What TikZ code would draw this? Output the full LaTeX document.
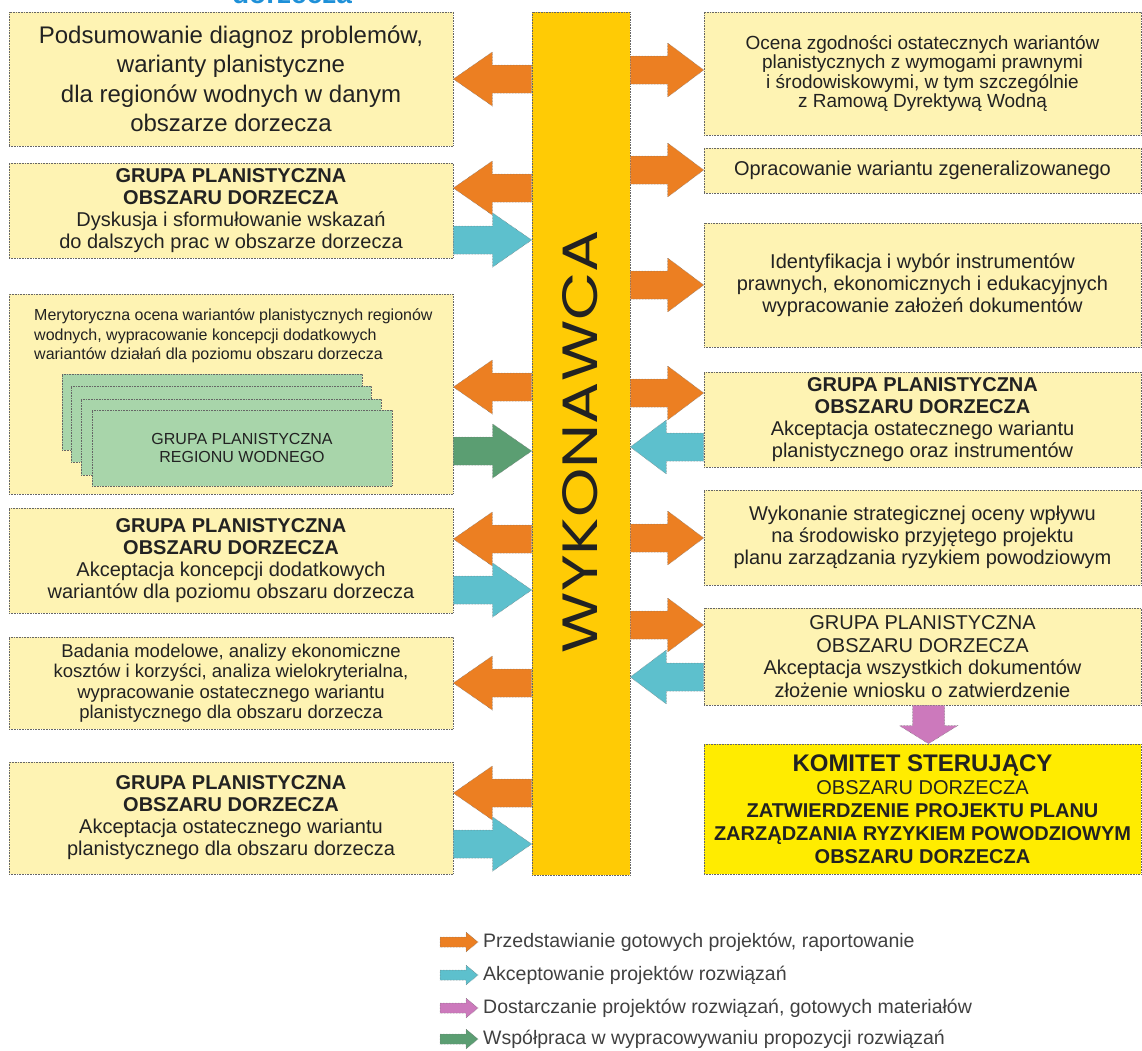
\documentclass[tikz,border=0pt]{standalone}
\usepackage{graphicx}
\usepackage{fontspec}
\setmainfont{Liberation Sans}
\newfontfamily\wykfont{Poppins}
\usetikzlibrary{calc}

\definecolor{boxfill}{HTML}{FEF3B3}
\definecolor{barfill}{HTML}{FFCB05}
\definecolor{komfill}{HTML}{FFEC00}
\definecolor{cardfill}{HTML}{A8D5AA}
\definecolor{arrorange}{HTML}{EC7F22}
\definecolor{arrcyan}{HTML}{5DC0CD}
\definecolor{arrgreen}{HTML}{5B9E72}
\definecolor{arrpink}{HTML}{CC79BC}
\definecolor{titleblue}{HTML}{1E90D8}
\definecolor{txt}{HTML}{222222}

% horizontal block arrow: colour, tail, tip, shaft half-height, head half-height, head length
\newcommand{\blockarrow}[6]{%
  \draw[arr, fill=#1] let \p1=(#2), \p2=(#3), \n1={ifthenelse(\x2>\x1,1,-1)} in
    ({\x1},{\y2+#4}) -- ({\x2-\n1*#6},{\y2+#4}) -- ({\x2-\n1*#6},{\y2+#5}) -- ({\x2},{\y2})
    -- ({\x2-\n1*#6},{\y2-#5}) -- ({\x2-\n1*#6},{\y2-#4}) -- ({\x1},{\y2-#4}) -- cycle;}
% vertical block arrow, same arguments
\newcommand{\vblockarrow}[6]{%
  \draw[arr, fill=#1] let \p1=(#2), \p2=(#3), \n1={ifthenelse(\y2>\y1,1,-1)} in
    ({\x2+#4},{\y1}) -- ({\x2+#4},{\y2-\n1*#6}) -- ({\x2+#5},{\y2-\n1*#6}) -- ({\x2},{\y2})
    -- ({\x2-#5},{\y2-\n1*#6}) -- ({\x2-#4},{\y2-\n1*#6}) -- ({\x2-#4},{\y1}) -- cycle;}

\tikzset{
  x=1pt, y=-1pt,
  outline/.style={draw=black!60, densely dotted, line width=0.6pt},
  box/.style={outline, fill=boxfill, inner sep=0pt, align=center, text=txt,
    font=\fontsize{20}{22}\selectfont},
  leftbox/.style={box, minimum width=444pt},
  rightbox/.style={box, minimum width=437pt},
  card/.style={outline, fill=cardfill, inner sep=0pt, align=center, text=txt,
    minimum width=300pt, minimum height=76pt, font=\fontsize{16}{18}\selectfont},
  arr/.style={draw=black!55, densely dotted, line width=0.5pt},
  legendtext/.style={anchor=west, inner sep=0pt, text=black!75,
    font=\fontsize{19.5}{22}\selectfont},
}

\begin{document}
\begin{tikzpicture}
\useasboundingbox (0,0) rectangle (1142,1050);

% heights at which the block arrows run
\foreach \v in {70,79,170,188,240,285,387,393,447,451,539,538,590,625,677,683,793,844}
  \coordinate (h\v) at (0,\v);

% heading running off the top edge
\node[anchor=base, inner sep=0pt, text=titleblue,
  font=\bfseries\fontsize{28}{30}\selectfont] (title) at (292,3.5) {dorzecza};

% central contractor bar
\node[outline, fill=barfill, minimum width=98pt, minimum height=863pt, inner sep=0pt]
  (bar) at (581,443.5) {};
\node[rotate=90, inner sep=0pt, text=txt] (wyk) at (580.5,441.5)
  {\resizebox{423pt}{35pt}{\wykfont WYKONAWCA}};

% left column
\node[leftbox, minimum height=134pt, font=\fontsize{24}{29.5}\selectfont] (L1) at (231,79)
  {Podsumowanie diagnoz problemów,\\warianty planistyczne\\dla regionów wodnych w danym\\obszarze dorzecza};
\node[leftbox, minimum height=95pt] (L2) at (231,210.5)
  {\textbf{GRUPA PLANISTYCZNA}\\\textbf{OBSZARU DORZECZA}\\Dyskusja i sformułowanie wskazań\\do dalszych prac w obszarze dorzecza};
\node[leftbox, minimum height=200pt] (L3) at (231,394) {};
\node[anchor=north west, inner sep=0pt, align=left, text=txt,
  font=\fontsize{16}{19.5}\selectfont] (L3t) at (34,309)
  {Merytoryczna ocena wariantów planistycznych regionów\\wodnych, wypracowanie koncepcji dodatkowych\\wariantów działań dla poziomu obszaru dorzecza};
\node[card] (g1) at (212,412) {};
\node[card] (g2) at (221,424) {};
\node[card] (g3) at (231,437) {};
\node[card] (g4) at (242,448) {GRUPA PLANISTYCZNA\\REGIONU WODNEGO};
\node[leftbox, minimum height=105pt] (L4) at (231,560.5)
  {\textbf{GRUPA PLANISTYCZNA}\\\textbf{OBSZARU DORZECZA}\\Akceptacja koncepcji dodatkowych\\wariantów dla poziomu obszaru dorzecza};
\node[leftbox, minimum height=92pt, font=\fontsize{18.5}{20.5}\selectfont] (L5) at (231,683)
  {Badania modelowe, analizy ekonomiczne\\kosztów i korzyści, analiza wielokryterialna,\\wypracowanie ostatecznego wariantu\\planistycznego dla obszaru dorzecza};
\node[leftbox, minimum height=112pt] (L6) at (231,818)
  {\textbf{GRUPA PLANISTYCZNA}\\\textbf{OBSZARU DORZECZA}\\Akceptacja ostatecznego wariantu\\planistycznego dla obszaru dorzecza};

% right column
\node[rightbox, minimum height=123pt, font=\fontsize{19}{19.5}\selectfont] (R1) at (922.5,73.5)
  {Ocena zgodności ostatecznych wariantów\\planistycznych z wymogami prawnymi\\i środowiskowymi, w tym szczególnie\\z Ramową Dyrektywą Wodną};
\node[rightbox, minimum height=45pt] (R2) at (922.5,170.5)
  {Opracowanie wariantu zgeneralizowanego};
\node[rightbox, minimum height=124pt] (R3) at (922.5,285)
  {Identyfikacja i wybór instrumentów\\prawnych, ekonomicznych i edukacyjnych\\wypracowanie założeń dokumentów};
\node[rightbox, minimum height=95pt] (R4) at (922.5,419.5)
  {\textbf{GRUPA PLANISTYCZNA}\\\textbf{OBSZARU DORZECZA}\\Akceptacja ostatecznego wariantu\\planistycznego oraz instrumentów};
\node[rightbox, minimum height=95pt] (R5) at (922.5,537.5)
  {Wykonanie strategicznej oceny wpływu\\na środowisko przyjętego projektu\\planu zarządzania ryzykiem powodziowym};
\node[rightbox, minimum height=97pt, font=\fontsize{20}{22.5}\selectfont] (R6) at (922.5,656.5)
  {GRUPA PLANISTYCZNA\\OBSZARU DORZECZA\\Akceptacja wszystkich dokumentów\\złożenie wniosku o zatwierdzenie};
\node[rightbox, fill=komfill, minimum height=130pt, font=\fontsize{20}{23}\selectfont] (R7) at (922.5,809)
  {{\bfseries\fontsize{24}{25}\selectfont KOMITET STERUJĄCY}\\OBSZARU DORZECZA\\\textbf{ZATWIERDZENIE PROJEKTU PLANU}\\\textbf{ZARZĄDZANIA RYZYKIEM POWODZIOWYM}\\\textbf{OBSZARU DORZECZA}};

% arrows on the left of the bar
\blockarrow{arrorange}{bar.west |- h79}{L1.east |- h79}{14pt}{27pt}{39pt}
\blockarrow{arrorange}{bar.west |- h188}{L2.east |- h188}{14pt}{27pt}{39pt}
\blockarrow{arrcyan}{L2.east |- h240}{bar.west |- h240}{14pt}{27pt}{39pt}
\blockarrow{arrorange}{bar.west |- h387}{L3.east |- h387}{14pt}{27pt}{39pt}
\blockarrow{arrgreen}{L3.east |- h451}{bar.west |- h451}{14pt}{27pt}{39pt}
\blockarrow{arrorange}{bar.west |- h539}{L4.east |- h539}{14pt}{27pt}{39pt}
\blockarrow{arrcyan}{L4.east |- h590}{bar.west |- h590}{14pt}{27pt}{39pt}
\blockarrow{arrorange}{bar.west |- h683}{L5.east |- h683}{14pt}{27pt}{39pt}
\blockarrow{arrorange}{bar.west |- h793}{L6.east |- h793}{14pt}{27pt}{39pt}
\blockarrow{arrcyan}{L6.east |- h844}{bar.west |- h844}{14pt}{27pt}{39pt}

% arrows on the right of the bar
\blockarrow{arrorange}{bar.east |- h70}{R1.west |- h70}{14pt}{27pt}{36pt}
\blockarrow{arrorange}{bar.east |- h170}{R2.west |- h170}{14pt}{27pt}{36pt}
\blockarrow{arrorange}{bar.east |- h285}{R3.west |- h285}{14pt}{27pt}{36pt}
\blockarrow{arrorange}{bar.east |- h393}{R4.west |- h393}{14pt}{27pt}{36pt}
\blockarrow{arrcyan}{R4.west |- h447}{bar.east |- h447}{14pt}{27pt}{36pt}
\blockarrow{arrorange}{bar.east |- h538}{R5.west |- h538}{14pt}{27pt}{36pt}
\blockarrow{arrorange}{bar.east |- h625}{R6.west |- h625}{14pt}{27pt}{36pt}
\blockarrow{arrcyan}{R6.west |- h677}{bar.east |- h677}{14pt}{27pt}{36pt}

% hand-over to the steering committee
\vblockarrow{arrpink}{[xshift=6pt]R6.south}{[xshift=6pt]R7.north}{16pt}{29pt}{18pt}

% legend
\coordinate (k1a) at (440,942);  \coordinate (k1b) at (478,942);
\coordinate (k2a) at (440,975);  \coordinate (k2b) at (478,975);
\coordinate (k3a) at (440,1008); \coordinate (k3b) at (478,1008);
\coordinate (k4a) at (440,1039); \coordinate (k4b) at (478,1039);
\blockarrow{arrorange}{k1a}{k1b}{5pt}{10pt}{12pt}
\blockarrow{arrcyan}{k2a}{k2b}{5pt}{10pt}{12pt}
\blockarrow{arrpink}{k3a}{k3b}{5pt}{10pt}{12pt}
\blockarrow{arrgreen}{k4a}{k4b}{5pt}{10pt}{12pt}
\node[legendtext] (t1) at (483,942) {Przedstawianie gotowych projektów, raportowanie};
\node[legendtext] (t2) at (483,975) {Akceptowanie projektów rozwiązań};
\node[legendtext] (t3) at (483,1008) {Dostarczanie projektów rozwiązań, gotowych materiałów};
\node[legendtext] (t4) at (483,1039) {Współpraca w wypracowywaniu propozycji rozwiązań};
\end{tikzpicture}
\end{document}
